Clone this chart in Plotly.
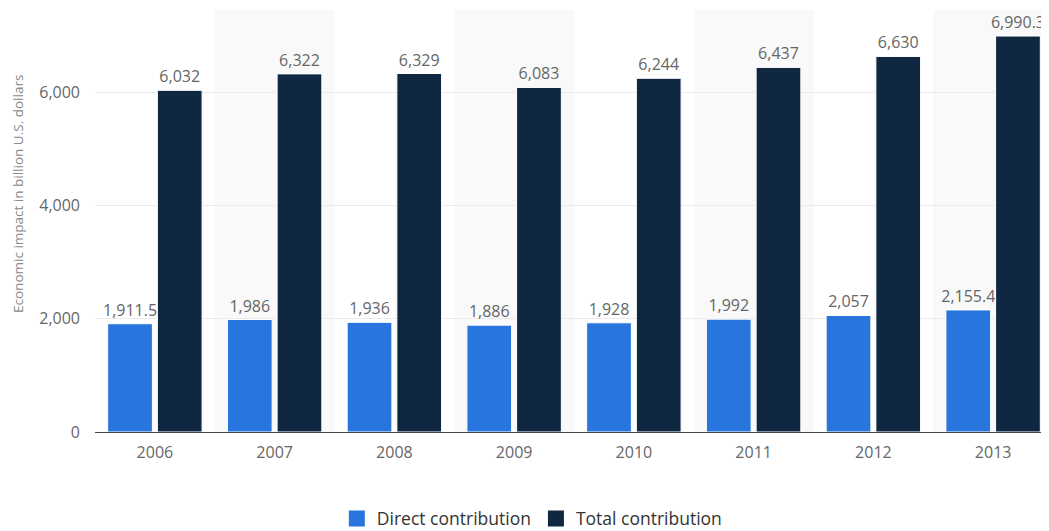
import plotly.graph_objects as go

years = ["2006", "2007", "2008", "2009", "2010", "2011", "2012", "2013"]
direct = [1911.5, 1986, 1936, 1886, 1928, 1992, 2057, 2155.4]
total = [6032, 6322, 6329, 6083, 6244, 6437, 6630, 6990.3]
y_ticks = [0, 2000, 4000, 6000]
series_names = ["Direct contribution", "Total contribution"]
series_colors = ["#2876dd", "#0f2741"]

fig = go.Figure()
for vals, name, color in zip([direct, total], series_names, series_colors):
    fig.add_trace(go.Bar(
        x=years, y=vals, name=name, showlegend=False, legendgroup=name,
        marker=dict(color=color, line=dict(color="#ffffff", width=1)),
        texttemplate="%{y:,}", textposition="outside",
        textfont=dict(color="#666666", size=16), cliponaxis=False,
        constraintext="none",
    ))
# legend entries with larger swatches
for name, color in zip(series_names, series_colors):
    fig.add_trace(go.Scatter(
        x=[None], y=[None], mode="markers", name=name, legendgroup=name,
        marker=dict(symbol="square", size=20, color=color),
    ))

shapes = []
for i in range(len(years)):
    if i % 2 == 1:
        shapes.append(dict(type="rect", xref="x", yref="paper",
                           x0=i - 0.5, x1=i + 0.5, y0=0, y1=1,
                           fillcolor="#f9f9f9", line=dict(width=0), layer="below"))

fig.update_layout(
    width=1049, height=531,
    margin=dict(l=87, r=4, t=2, b=107, autoexpand=False),
    paper_bgcolor="white", plot_bgcolor="white",
    font=dict(family="Open Sans", color="#666666", size=16),
    barmode="group", bargap=0.17, bargroupgap=0.1,
    shapes=shapes,
    showlegend=True,
    legend=dict(orientation="h", x=0.456, xanchor="center", y=-0.205, yanchor="middle",
                font=dict(size=17.5, color="#333333"), itemwidth=30, tracegroupgap=0),
    xaxis=dict(type="category", showgrid=False, showline=True, linecolor="#444444",
               linewidth=1, ticks="", tickfont=dict(size=16, color="#666666"),
               ticklabelstandoff=6, automargin=False, range=[-0.5, 7.5]),
    yaxis=dict(range=[0, 7450], tickvals=y_ticks, tickformat=",d",
               showgrid=True, gridcolor="#ebebeb", gridwidth=1,
               zeroline=False, ticks="", ticklabelstandoff=14, automargin=False,
               tickfont=dict(size=16, color="#666666")),
    annotations=[dict(text="Economic impact in billion U.S. dollars",
                      xref="paper", yref="paper", x=-0.0804, y=0.564,
                      xanchor="center", yanchor="middle", textangle=-90,
                      showarrow=False, font=dict(size=13.5, color="#888888"))],
)

fig.write_html("out.html")
